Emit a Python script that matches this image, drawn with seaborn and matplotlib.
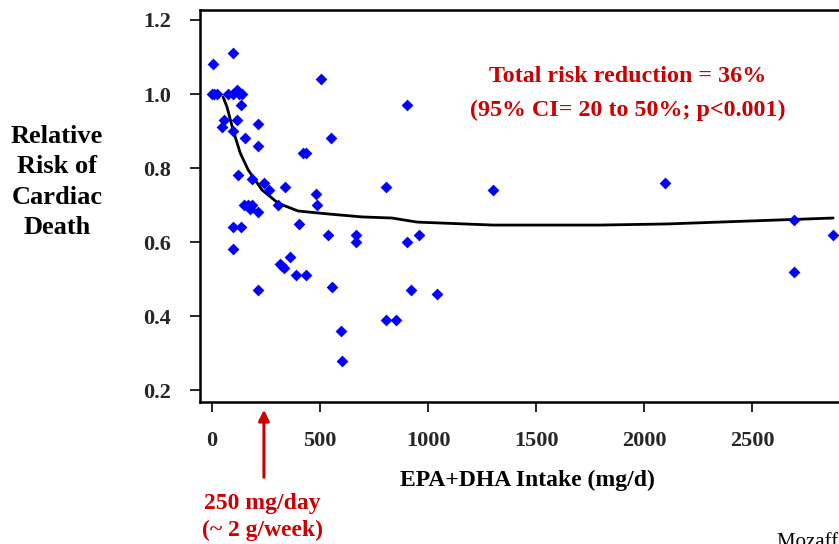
import matplotlib
matplotlib.use("Agg")
import matplotlib.pyplot as plt
import seaborn as sns
import pandas as pd

# EPA+DHA intake (mg/d) and relative risk of cardiac death per study
intake = [5, 97, 0, 10, 25, 74, 97, 116, 125, 139,
          55, 116, 46, 97, 134, 213, 153, 213,
          505, 551, 421, 435, 903,
          120, 185, 241, 264, 338, 806, 481, 486,
          148, 167, 185, 176, 213, 306,
          97, 134, 97, 403, 537, 667, 667,
          361, 315, 324, 333, 389, 435, 213, 556,
          597, 602, 806, 850,
          1301, 2097, 903, 958, 921, 1042,
          2694, 2875, 2694]
risk = [1.08, 1.11, 1.0, 1.0, 1.0, 1.0, 1.0, 1.01, 1.0, 1.0,
        0.93, 0.93, 0.91, 0.90, 0.97, 0.92, 0.88, 0.86,
        1.04, 0.88, 0.84, 0.84, 0.97,
        0.78, 0.77, 0.76, 0.74, 0.75, 0.75, 0.73, 0.70,
        0.70, 0.70, 0.70, 0.69, 0.68, 0.70,
        0.64, 0.64, 0.58, 0.65, 0.62, 0.62, 0.60,
        0.56, 0.54, 0.535, 0.53, 0.51, 0.51, 0.47, 0.48,
        0.36, 0.28, 0.39, 0.39,
        0.74, 0.76, 0.60, 0.62, 0.47, 0.46,
        0.66, 0.62, 0.52]

# Fitted dose-response curve
curve_x = [51, 69, 97, 130, 167, 231, 306, 398, 537, 694, 833, 949, 1301, 1796, 2106, 2875]
curve_y = [0.992, 0.965, 0.903, 0.841, 0.795, 0.741, 0.705, 0.684, 0.676, 0.668,
           0.665, 0.654, 0.646, 0.646, 0.649, 0.665]

x_ticks = [0, 500, 1000, 1500, 2000, 2500]
y_ticks = [0.2, 0.4, 0.6, 0.8, 1.0, 1.2]

pts = pd.DataFrame({"intake": intake, "risk": risk})
fit = pd.DataFrame({"intake": curve_x, "risk": curve_y})

sns.set_theme(style="white")
plt.rcParams["font.family"] = ["Liberation Serif", "DejaVu Serif"]
plt.rcParams["font.weight"] = "bold"

W, H = 839, 544
fig = plt.figure(figsize=(W / 100, H / 100), dpi=100)
ax = fig.add_axes([200 / W, (H - 402) / H, 645 / W, 392 / H])

sns.lineplot(data=fit, x="intake", y="risk", ax=ax, color="black", linewidth=2, zorder=2)
sns.scatterplot(data=pts, x="intake", y="risk", ax=ax, marker="D", s=36,
                color="#0000ff", edgecolor="#0000ff", linewidth=0, zorder=3)

ax.set_xlim(-56, 2930)
ax.set_ylim(0.168, 1.227)
ax.set_xticks(x_ticks)
ax.set_xticklabels([str(v) for v in x_ticks])
ax.set_yticks(y_ticks)
ax.set_yticklabels([f"{v:.1f}" for v in y_ticks])
ax.tick_params(axis="both", direction="out", length=7, width=1.2, color="black",
               labelsize=16, bottom=True, left=True)
for lab in ax.get_xticklabels() + ax.get_yticklabels():
    lab.set_fontweight("bold")
ax.tick_params(axis="x", pad=14)
ax.tick_params(axis="y", pad=14)
for sp in ax.spines.values():
    sp.set_color("black")
    sp.set_linewidth(1.8)
ax.set_xlabel("")
ax.set_ylabel("")

fig.text(527 / W, 1 - 480 / H, "EPA+DHA Intake (mg/d)", ha="center", va="center",
         fontsize=17, fontweight="bold", color="black")
fig.text(57 / W, 1 - 182 / H, "Relative\nRisk of\nCardiac\nDeath", ha="center", va="center",
         fontsize=19, fontweight="bold", color="black", linespacing=1.42)

red = "#cc0000"
fig.text(628 / W, 1 - 77 / H, "Total risk reduction = 36%", ha="center", va="center",
         fontsize=17.3, fontweight="bold", color=red)
fig.text(628 / W, 1 - 110 / H, "(95% CI= 20 to 50%; p<0.001)", ha="center", va="center",
         fontsize=17.3, fontweight="bold", color=red)

ax.annotate("", xy=(240, 0.168 - 5 / 370), xycoords="data",
            xytext=(240, 0.168 - 78 / 370), textcoords="data",
            arrowprops=dict(arrowstyle="-|>", color=red, lw=2.2, mutation_scale=16),
            annotation_clip=False)
fig.text(262 / W, 1 - 503 / H, "250 mg/day", ha="center", va="center",
         fontsize=17, fontweight="bold", color=red)
fig.text(262 / W, 1 - 530 / H, "(~ 2 g/week)", ha="center", va="center",
         fontsize=17, fontweight="bold", color=red)

fig.text(777 / W, 1 - 548 / H, "Mozaffarian & Rimm, JAMA 2006", ha="left", va="baseline",
         fontsize=15, fontweight="normal", color="black")

fig.savefig("out.png", dpi=100)
